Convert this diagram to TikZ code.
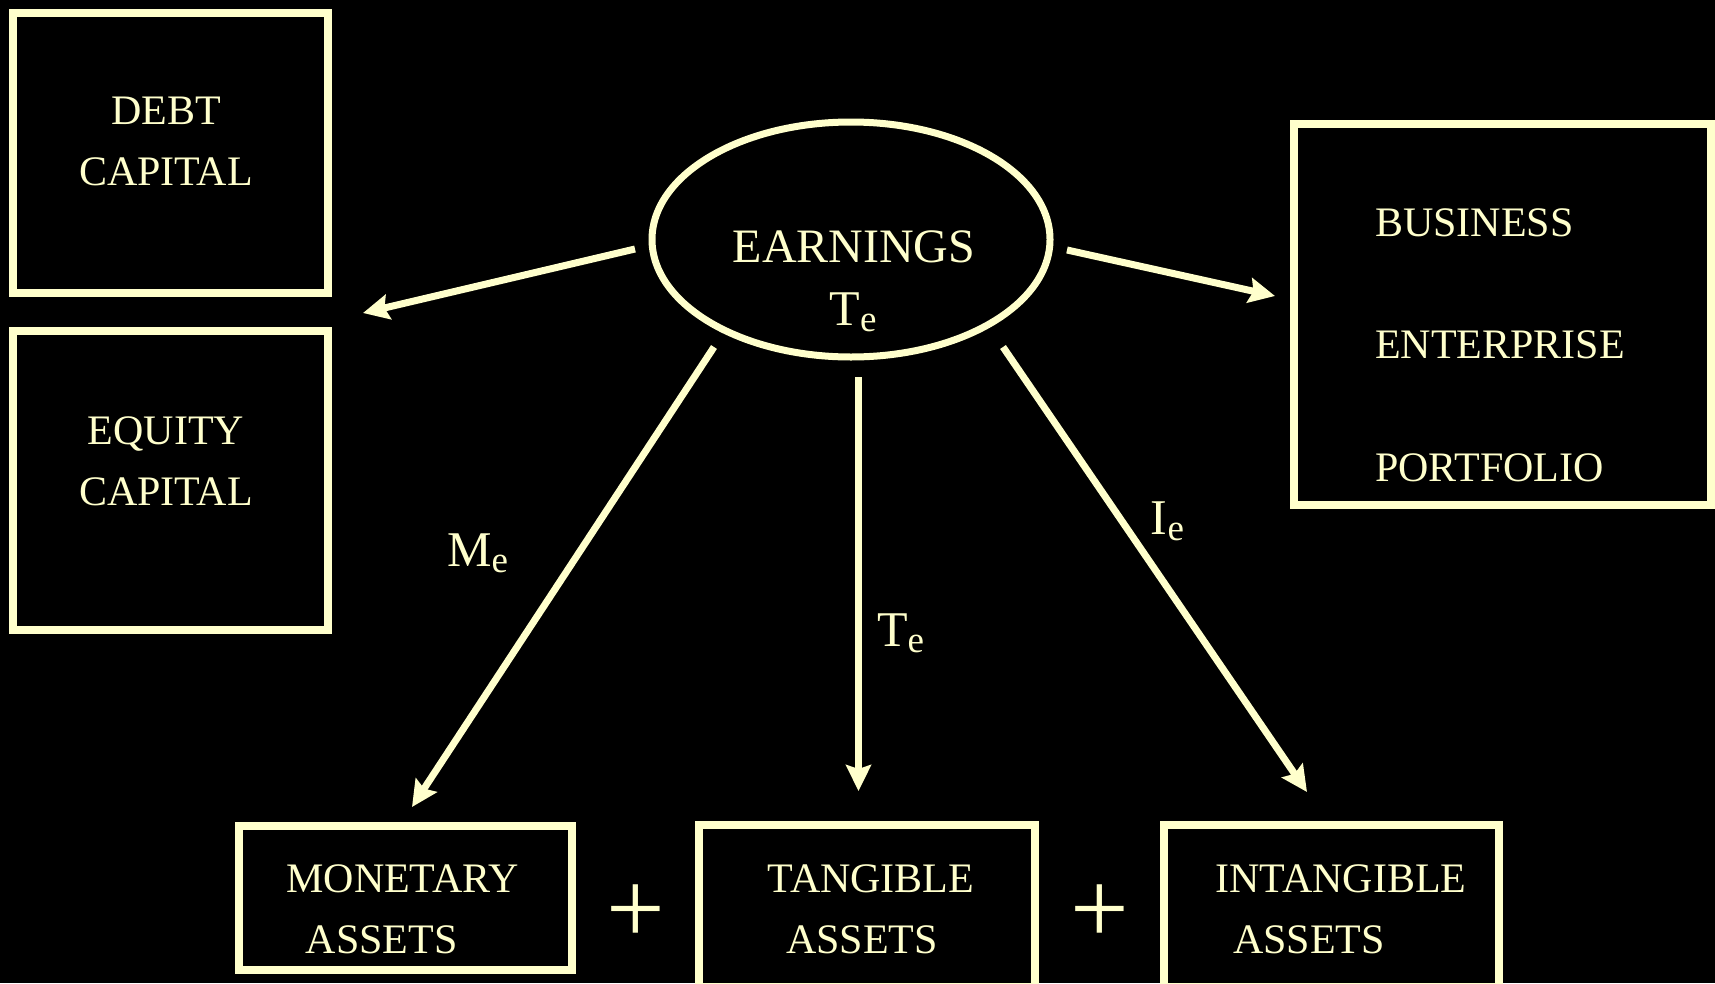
\documentclass[tikz,border=0pt]{standalone}
\usepackage{fontspec}
\setmainfont{Liberation Serif}
\usetikzlibrary{arrows.meta,shapes.geometric}
\definecolor{cream}{HTML}{FFFFCC}
\newcommand\mysub[1]{\raisebox{-6pt}{\fontsize{37}{37}\selectfont #1}}
\tikzset{
  box/.style={draw=cream, line width=8pt, inner sep=0pt, rectangle},
  txt/.style={text=cream, font=\fontsize{42}{50}\selectfont, inner sep=0pt, anchor=base},
  big/.style={text=cream, font=\fontsize{48}{56}\selectfont, inner sep=0pt, anchor=base},
  sym/.style={text=cream, font=\fontsize{50}{58}\selectfont, inner sep=0pt, anchor=base},
  plussign/.style={text=cream, font=\fontsize{104}{110}\selectfont, inner sep=0pt},
  arr/.style={draw=cream, line width=7pt, -{Stealth[length=26pt,width=25pt,inset=4pt]}},
}
\begin{document}
\begin{tikzpicture}[x=1pt,y=-1pt]
\useasboundingbox[fill=black] (0,0) rectangle (1715,983);
% boxes
\node[box, minimum width=315pt, minimum height=280pt] (debt) at (170.5,153) {};
\node[box, minimum width=315pt, minimum height=299pt] (equity) at (170.5,480.5) {};
\node[box, minimum width=417pt, minimum height=381pt] (bus) at (1502.5,314.5) {};
\node[box, minimum width=333pt, minimum height=144pt] (mon) at (405.5,898) {};
\node[box, minimum width=336pt, minimum height=162pt] (tan) at (867,906) {};
\node[box, minimum width=335pt, minimum height=162pt] (intan) at (1331,906) {};
\node[draw=cream, line width=7pt, ellipse, minimum width=398pt, minimum height=235pt, inner sep=0pt] (earn) at (851,239.5) {};
% texts
\node[txt] (debt1) at (166,124) {DEBT};
\node[txt] (debt2) at (166,185.5) {CAPITAL};
\node[txt] (eq1) at (166,444) {EQUITY};
\node[txt] (eq2) at (166,505.5) {CAPITAL};
\node[txt, anchor=base west] (bus1) at (1375,236) {BUSINESS};
\node[txt, anchor=base west] (bus2) at (1375,358) {ENTERPRISE};
\node[txt, anchor=base west] (bus3) at (1375,481) {PORTFOLIO};
\node[txt] (mon1) at (402.5,892) {MONETARY};
\node[txt] (mon2) at (381.7,953) {ASSETS};
\node[txt] (tan1) at (871,892) {TANGIBLE};
\node[txt] (tan2) at (862,953) {ASSETS};
\node[txt] (int1) at (1341,892) {INTANGIBLE};
\node[txt] (int2) at (1309,953) {ASSETS};
\node[big] (earn1) at (854,262) {EARNINGS};
\node[sym] (earn2) at (853,325) {T\mysub{e}};
\node[sym] (me) at (477.5,566) {M\mysub{e}};
\node[sym] (te) at (900.5,646) {T\mysub{e}};
\node[sym] (ie) at (1167.5,534) {I\mysub{e}};
\node[plussign] (plus1) at (635.5,914) {+};
\node[plussign] (plus2) at (1100,914) {+};
% arrows
\coordinate (l0) at (635,249);
\coordinate (l1) at (363,313);
\coordinate (r0) at (1067,250);
\coordinate (r1) at (1275,296);
\coordinate (m0) at (714,347);
\coordinate (m1) at (412,807);
\coordinate (t0) at (858.5,377);
\coordinate (t1) at (858.5,791);
\coordinate (i0) at (1003,347);
\coordinate (i1) at (1307,792);
\draw[arr] (l0) -- (l1);
\draw[arr] (r0) -- (r1);
\draw[arr] (m0) -- (m1);
\draw[arr] (t0) -- (t1);
\draw[arr] (i0) -- (i1);
\end{tikzpicture}
\end{document}
